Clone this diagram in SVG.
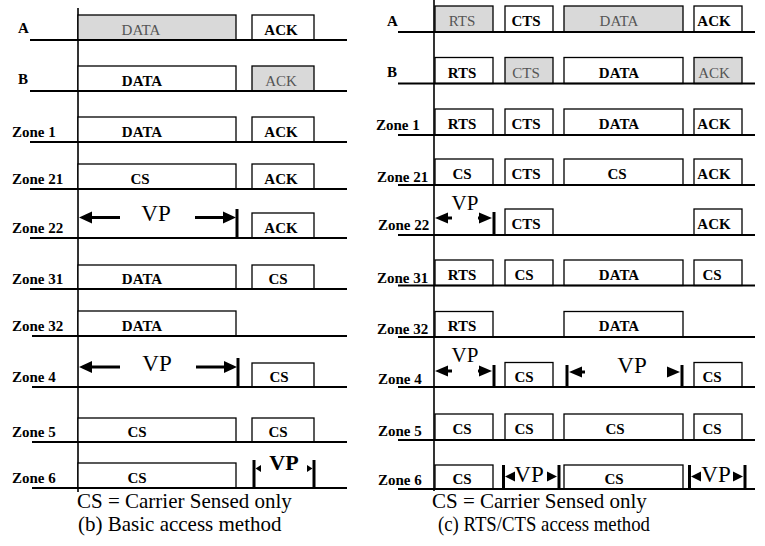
<svg xmlns="http://www.w3.org/2000/svg" width="765" height="546" viewBox="0 0 765 546">
<style>
.lbl{font-family:"Liberation Serif",serif;font-weight:bold;font-size:15px;fill:#000}
.t{font-family:"Liberation Serif",serif;font-weight:bold;font-size:15px;fill:#000;text-anchor:middle}
.gt{font-family:"Liberation Serif",serif;font-size:15px;fill:#555;text-anchor:middle}
.vp{font-family:"Liberation Serif",serif;font-size:21px;fill:#000;text-anchor:middle}
.vpl{font-family:"Liberation Serif",serif;font-size:23px;fill:#000;text-anchor:middle}
.vpb{font-family:"Liberation Serif",serif;font-weight:bold;font-size:22px;fill:#000;text-anchor:middle}
.cap{font-family:"Liberation Serif",serif;font-size:21px;fill:#000}
.bx{fill:#fff;stroke:#000;stroke-width:1.3}
.gbx{fill:#d9d9d9;stroke:#000;stroke-width:1.3}
.base{stroke:#000;stroke-width:2;fill:none}
.axis{stroke:#000;stroke-width:1.6;fill:none}
.bar{stroke:#000;stroke-width:3;fill:none}
.sh{stroke:#000;stroke-width:3;fill:none}
.ah{fill:#000;stroke:none}
</style>

<!-- LEFT PANEL -->
<g id="left-axis">
<line class="axis" x1="78" y1="8" x2="78" y2="492"/>
</g>

<g id="L-A">
<rect class="gbx" x="78" y="15" width="158" height="25"/>
<text class="gt" x="141" y="35">DATA</text>
<rect class="bx" x="252" y="15" width="62" height="25"/>
<text class="t" x="281" y="35">ACK</text>
<line class="base" x1="30" y1="40" x2="347" y2="40"/>
<text class="lbl" x="18" y="33">A</text>
</g>
<g id="L-B">
<rect class="bx" x="78" y="66" width="158" height="25"/>
<text class="t" x="142" y="86">DATA</text>
<rect class="gbx" x="252" y="66" width="62" height="25"/>
<text class="gt" x="281" y="86">ACK</text>
<line class="base" x1="30" y1="91" x2="347" y2="91"/>
<text class="lbl" x="18" y="84">B</text>
</g>
<g id="L-Z1">
<rect class="bx" x="78" y="117" width="158" height="25"/>
<text class="t" x="142" y="137">DATA</text>
<rect class="bx" x="252" y="117" width="62" height="25"/>
<text class="t" x="281" y="137">ACK</text>
<line class="base" x1="30" y1="142" x2="347" y2="142"/>
<text class="lbl" x="12" y="137">Zone 1</text>
</g>
<g id="L-Z21">
<rect class="bx" x="78" y="164" width="158" height="25"/>
<text class="t" x="140" y="184">CS</text>
<rect class="bx" x="252" y="164" width="62" height="25"/>
<text class="t" x="281" y="184">ACK</text>
<line class="base" x1="30" y1="189" x2="347" y2="189"/>
<text class="lbl" x="12" y="184">Zone 21</text>
</g>
<g id="L-Z22">
<rect class="bx" x="252" y="213" width="62" height="25"/>
<text class="t" x="281" y="233">ACK</text>
<line class="base" x1="30" y1="238" x2="347" y2="238"/>
<text class="lbl" x="12" y="233">Zone 22</text>
<text class="vpl" x="156" y="221">VP</text>
</g>
<g id="L-Z31">
<rect class="bx" x="78" y="265" width="158" height="24"/>
<text class="t" x="142" y="284">DATA</text>
<rect class="bx" x="252" y="265" width="62" height="24"/>
<text class="t" x="278" y="284">CS</text>
<line class="base" x1="30" y1="289" x2="347" y2="289"/>
<text class="lbl" x="12" y="284">Zone 31</text>
</g>
<g id="L-Z32">
<rect class="bx" x="78" y="311" width="158" height="25"/>
<text class="t" x="142" y="331">DATA</text>
<line class="base" x1="32" y1="336" x2="347" y2="336"/>
<text class="lbl" x="12" y="331">Zone 32</text>
</g>
<g id="L-Z4">
<rect class="bx" x="252" y="363" width="62" height="24"/>
<text class="t" x="279" y="382">CS</text>
<line class="base" x1="32" y1="387" x2="347" y2="387"/>
<text class="lbl" x="12" y="382">Zone 4</text>
<text class="vpl" x="157" y="371">VP</text>
</g>
<g id="L-Z5">
<rect class="bx" x="78" y="418" width="158" height="24"/>
<text class="t" x="137" y="437">CS</text>
<rect class="bx" x="252" y="418" width="62" height="24"/>
<text class="t" x="278" y="437">CS</text>
<line class="base" x1="32" y1="442" x2="347" y2="442"/>
<text class="lbl" x="12" y="437">Zone 5</text>
</g>
<g id="L-Z6">
<rect class="bx" x="78" y="463" width="158" height="25"/>
<text class="t" x="137" y="483">CS</text>
<line class="base" x1="32" y1="488" x2="347" y2="488"/>
<text class="lbl" x="12" y="483">Zone 6</text>
<text class="vpb" x="284" y="470">VP</text>
</g>
<g id="L-caption">
<text class="cap" x="77" y="508">CS = Carrier Sensed only</text>
<text class="cap" x="78" y="531">(b) Basic access method</text>
</g>

<!-- RIGHT PANEL -->
<g id="right-axis">
<line class="axis" x1="434" y1="0" x2="434" y2="491"/>
</g>

<g id="R-A">
<rect class="gbx" x="435" y="6" width="58" height="26"/>
<text class="gt" x="462" y="26">RTS</text>
<rect class="bx" x="505" y="6" width="48" height="26"/>
<text class="t" x="526" y="26">CTS</text>
<rect class="gbx" x="564" y="6" width="119" height="26"/>
<text class="gt" x="619" y="26">DATA</text>
<rect class="bx" x="694" y="6" width="48" height="26"/>
<text class="t" x="714" y="26">ACK</text>
<line class="base" x1="398" y1="32" x2="755" y2="32"/>
<text class="lbl" x="387" y="26">A</text>
</g>
<g id="R-B">
<rect class="bx" x="435" y="57.5" width="58" height="26"/>
<text class="t" x="462" y="77.5">RTS</text>
<rect class="gbx" x="505" y="57.5" width="48" height="26"/>
<text class="gt" x="526" y="77.5">CTS</text>
<rect class="bx" x="564" y="57.5" width="119" height="26"/>
<text class="t" x="619" y="77.5">DATA</text>
<rect class="gbx" x="694" y="57.5" width="48" height="26"/>
<text class="gt" x="714" y="77.5">ACK</text>
<line class="base" x1="398" y1="83.5" x2="755" y2="83.5"/>
<text class="lbl" x="387" y="77">B</text>
</g>
<g id="R-Z1">
<rect class="bx" x="435" y="109" width="58" height="26"/>
<text class="t" x="462" y="129">RTS</text>
<rect class="bx" x="505" y="109" width="48" height="26"/>
<text class="t" x="526" y="129">CTS</text>
<rect class="bx" x="564" y="109" width="119" height="26"/>
<text class="t" x="619" y="129">DATA</text>
<rect class="bx" x="694" y="109" width="48" height="26"/>
<text class="t" x="714" y="129">ACK</text>
<line class="base" x1="398" y1="135" x2="755" y2="135"/>
<text class="lbl" x="376" y="130">Zone 1</text>
</g>
<g id="R-Z21">
<rect class="bx" x="435" y="159" width="58" height="26"/>
<text class="t" x="462" y="179">CS</text>
<rect class="bx" x="505" y="159" width="48" height="26"/>
<text class="t" x="526" y="179">CTS</text>
<rect class="bx" x="564" y="159" width="119" height="26"/>
<text class="t" x="617" y="179">CS</text>
<rect class="bx" x="694" y="159" width="48" height="26"/>
<text class="t" x="714" y="179">ACK</text>
<line class="base" x1="398" y1="185" x2="755" y2="185"/>
<text class="lbl" x="377" y="182">Zone 21</text>
</g>
<g id="R-Z22">
<rect class="bx" x="505" y="209" width="48" height="26"/>
<text class="t" x="526" y="229">CTS</text>
<rect class="bx" x="694" y="209" width="48" height="26"/>
<text class="t" x="714" y="229">ACK</text>
<line class="base" x1="398" y1="235" x2="755" y2="235"/>
<text class="lbl" x="378" y="230">Zone 22</text>
<text class="vp" x="465" y="210">VP</text>
</g>
<g id="R-Z31">
<rect class="bx" x="435" y="260" width="58" height="25.5"/>
<text class="t" x="462" y="279.5">RTS</text>
<rect class="bx" x="505" y="260" width="48" height="25.5"/>
<text class="t" x="524" y="279.5">CS</text>
<rect class="bx" x="564" y="260" width="119" height="25.5"/>
<text class="t" x="619" y="279.5">DATA</text>
<rect class="bx" x="694" y="260" width="48" height="25.5"/>
<text class="t" x="712" y="279.5">CS</text>
<line class="base" x1="398" y1="285.5" x2="755" y2="285.5"/>
<text class="lbl" x="377" y="283">Zone 31</text>
</g>
<g id="R-Z32">
<rect class="bx" x="435" y="311.5" width="58" height="25.5"/>
<text class="t" x="462" y="331">RTS</text>
<rect class="bx" x="564" y="311.5" width="119" height="25.5"/>
<text class="t" x="619" y="331">DATA</text>
<line class="base" x1="398" y1="337" x2="755" y2="337"/>
<text class="lbl" x="377" y="334">Zone 32</text>
</g>
<g id="R-Z4">
<rect class="bx" x="505" y="362.5" width="48" height="24.5"/>
<text class="t" x="524" y="382">CS</text>
<rect class="bx" x="694" y="362.5" width="48" height="24.5"/>
<text class="t" x="712" y="382">CS</text>
<line class="base" x1="398" y1="387" x2="755" y2="387"/>
<text class="lbl" x="378" y="384">Zone 4</text>
<text class="vp" x="465" y="362">VP</text>
<text class="vpl" x="632" y="373">VP</text>
</g>
<g id="R-Z5">
<rect class="bx" x="435" y="414" width="58" height="26"/>
<text class="t" x="462" y="434">CS</text>
<rect class="bx" x="505" y="414" width="48" height="26"/>
<text class="t" x="524" y="434">CS</text>
<rect class="bx" x="564" y="414" width="119" height="26"/>
<text class="t" x="615" y="434">CS</text>
<rect class="bx" x="694" y="414" width="48" height="26"/>
<text class="t" x="712" y="434">CS</text>
<line class="base" x1="398" y1="440" x2="755" y2="440"/>
<text class="lbl" x="378" y="436">Zone 5</text>
</g>
<g id="R-Z6">
<rect class="bx" x="435" y="465" width="58" height="24"/>
<text class="t" x="462" y="484">CS</text>
<rect class="bx" x="564" y="465" width="119" height="24"/>
<text class="t" x="614" y="484">CS</text>
<line class="base" x1="398" y1="489" x2="755" y2="489"/>
<text class="lbl" x="378" y="485">Zone 6</text>
<text class="vpl" x="529" y="482">VP</text>
<text class="vpl" x="716" y="482">VP</text>
</g>
<g id="R-caption">
<text class="cap" x="432" y="508">CS = Carrier Sensed only</text>
<text class="cap" x="438" y="531" textLength="212" lengthAdjust="spacingAndGlyphs">(c) RTS/CTS access method</text>
</g>

<!-- VP interval connectors -->
<g id="connectors">
<!-- left Zone 22 -->
<polygon class="ah" points="79,217.5 92,211.5 92,223.5"/>
<line class="sh" x1="91" y1="217.5" x2="120" y2="217.5"/>
<line class="sh" x1="195" y1="217.5" x2="225" y2="217.5"/>
<polygon class="ah" points="236,217.5 223,211.5 223,223.5"/>
<line class="bar" x1="237" y1="209" x2="237" y2="238"/>
<!-- left Zone 4 -->
<polygon class="ah" points="79,367 92,361 92,373"/>
<line class="sh" x1="91" y1="367" x2="120" y2="367"/>
<line class="sh" x1="196" y1="367" x2="226" y2="367"/>
<polygon class="ah" points="237,367 224,361 224,373"/>
<line class="bar" x1="238" y1="358" x2="238" y2="387"/>
<!-- left Zone 6 -->
<line class="bar" x1="254" y1="460" x2="254" y2="488"/>
<polygon class="ah" points="255.5,468.5 261,465 261,472"/>
<line class="bar" x1="314" y1="460" x2="314" y2="488"/>
<polygon class="ah" points="312.5,468.5 307,465 307,472"/>
<!-- right Zone 22 -->
<polygon class="ah" points="435,218 448,212.5 448,223.5"/>
<line class="sh" x1="446" y1="218" x2="452" y2="218"/>
<line class="sh" x1="478" y1="218" x2="482" y2="218"/>
<polygon class="ah" points="492,218 479,212.5 479,223.5"/>
<line class="bar" x1="494" y1="212" x2="494" y2="235"/>
<!-- right Zone 4 small -->
<polygon class="ah" points="435,371 448,365.5 448,376.5"/>
<line class="sh" x1="446" y1="371" x2="452" y2="371"/>
<line class="sh" x1="478" y1="371" x2="482" y2="371"/>
<polygon class="ah" points="492,371 479,365.5 479,376.5"/>
<line class="bar" x1="494" y1="365" x2="494" y2="387"/>
<!-- right Zone 4 big -->
<line class="bar" x1="567" y1="365" x2="567" y2="387"/>
<polygon class="ah" points="569,372 582,366.5 582,377.5"/>
<line class="sh" x1="580" y1="372" x2="585" y2="372"/>
<polygon class="ah" points="680,372 667,366.5 667,377.5"/>
<line class="bar" x1="682" y1="365" x2="682" y2="387"/>
<!-- right Zone 6 first -->
<line class="bar" x1="503.5" y1="465" x2="503.5" y2="489"/>
<polygon class="ah" points="505,476.5 515,471.5 515,481.5"/>
<polygon class="ah" points="557,476.5 547,471.5 547,481.5"/>
<line class="bar" x1="559" y1="465" x2="559" y2="489"/>
<!-- right Zone 6 second -->
<line class="bar" x1="689.5" y1="465" x2="689.5" y2="489"/>
<polygon class="ah" points="691,476.5 701,471.5 701,481.5"/>
<polygon class="ah" points="743,476.5 733,471.5 733,481.5"/>
<line class="bar" x1="745" y1="465" x2="745" y2="489"/>
</g>
</svg>
